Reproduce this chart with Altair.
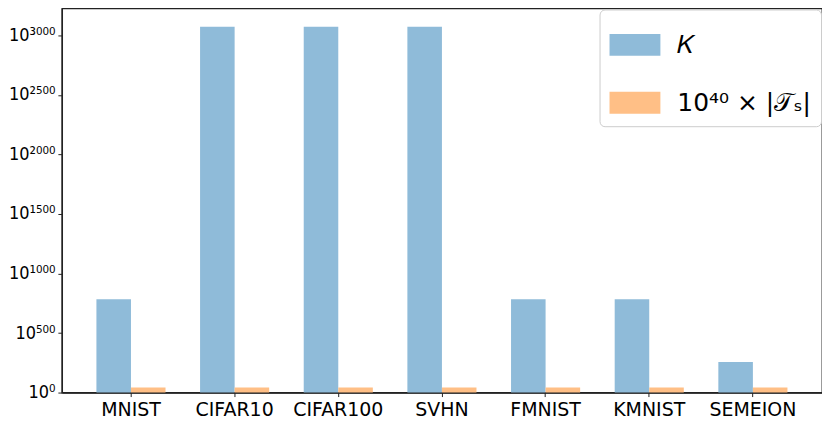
import altair as alt
import pandas as pd

datasets = ["MNIST", "CIFAR10", "CIFAR100", "SVHN", "FMNIST", "KMNIST", "SEMEION"]
k_log10 = [784, 3072, 3072, 3072, 784, 784, 256]
ts_log10 = [42, 42, 42, 42, 42, 42, 42]
series_names = ["𝐾", "10⁴⁰ × |𝒯ₛ|"]
series_colors = ["#8fbbd9", "#ffbf86"]
y_ticks = [0, 500, 1000, 1500, 2000, 2500, 3000]
y_max = 3225.6

rows = []
for d, k, t in zip(datasets, k_log10, ts_log10):
    rows.append({"dataset": d, "series": series_names[0], "exp": k})
    rows.append({"dataset": d, "series": series_names[1], "exp": t})
df = pd.DataFrame(rows)

sup = str.maketrans("0123456789", "⁰¹²³⁴⁵⁶⁷⁸⁹")
parts = [f"datum.value == {v} ? '10{str(v).translate(sup)}'" for v in y_ticks]
label_expr = " : ".join(parts) + " : ''"

chart = alt.Chart(df).mark_bar().encode(
    x=alt.X("dataset:N", sort=datasets, title=None,
            scale=alt.Scale(paddingInner=1/3, paddingOuter=1/3),
            axis=alt.Axis(labelAngle=0, labelFontSize=19, labelPadding=4,
                          tickSize=4, labelColor="black", labelFont="DejaVu Sans")),
    xOffset=alt.XOffset("series:N", sort=series_names,
                        scale=alt.Scale(paddingInner=0, paddingOuter=0)),
    y=alt.Y("exp:Q", title=None,
            scale=alt.Scale(domain=[0, y_max], nice=False, zero=True),
            axis=alt.Axis(values=y_ticks, labelExpr=label_expr, labelFontSize=18,
                          labelFont="DejaVu Sans Condensed, DejaVu Sans",
                          tickSize=4, labelPadding=3, grid=False, labelColor="black")),
    color=alt.Color("series:N", sort=series_names,
                    scale=alt.Scale(domain=series_names, range=series_colors),
                    legend=alt.Legend(title=None, orient="top-right", offset=1,
                                      symbolType="M-1,-0.43H1V0.43H-1Z", symbolSize=2601,
                                      symbolStrokeWidth=0, symbolOpacity=1,
                                      labelFontSize=25, labelOffset=17, rowPadding=19,
                                      padding=10, fillColor="white", strokeColor="#cccccc",
                                      cornerRadius=5, labelColor="black", labelLimit=300,
                                      labelFont="DejaVu Sans")),
).properties(width=762, height=385, padding=0).configure_view(
    stroke="#222", strokeWidth=1.3
).configure_axis(
    domainColor="#222", domainWidth=1.3, tickColor="#222"
)

chart.save("out.html", embed_options={"renderer": "svg", "actions": False})
